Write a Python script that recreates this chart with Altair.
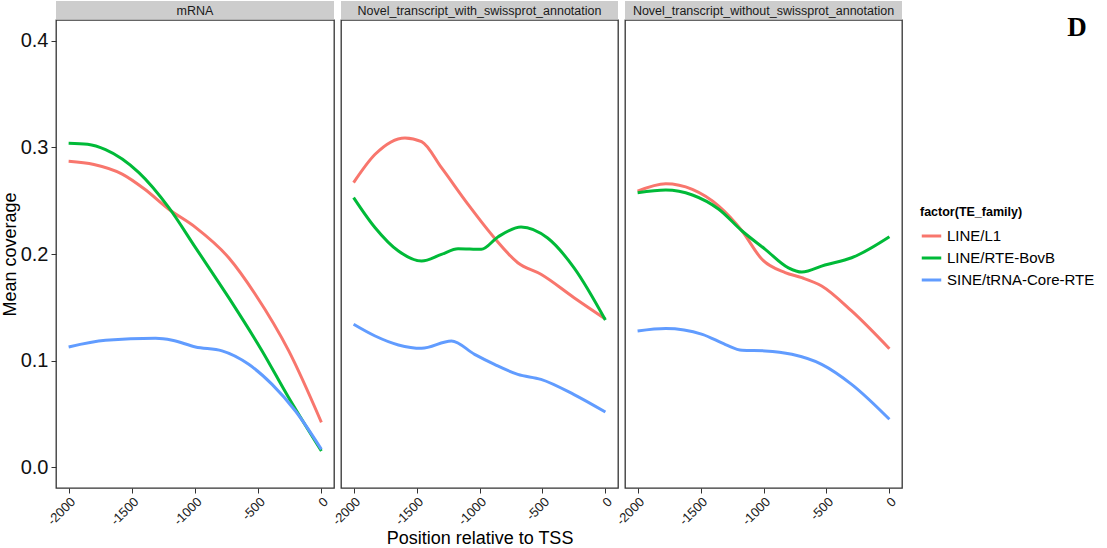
import altair as alt
import pandas as pd

panels = ["mRNA", "Novel_transcript_with_swissprot_annotation", "Novel_transcript_without_swissprot_annotation"]
families = ["LINE/L1", "LINE/RTE-BovB", "SINE/tRNA-Core-RTE"]
colors = ["#F8766D", "#00BA38", "#619CFF"]

# mRNA
mrna_l1_x = [-2000, -1800, -1576, -1400, -1207, -996, -733, -522, -258, 0]
mrna_l1_y = [0.287, 0.284, 0.275, 0.261, 0.242, 0.225, 0.1965, 0.162, 0.109, 0.042]
mrna_rte_x = [-2000, -1850, -1708, -1444, -1207, -996, -733, -469, -258, 0]
mrna_rte_y = [0.304, 0.303, 0.298, 0.2764, 0.2435, 0.206, 0.159, 0.109, 0.065, 0.015]
mrna_sine_x = [-2000, -1708, -1312, -1180, -996, -786, -575, -390, -205, 0]
mrna_sine_y = [0.1127, 0.119, 0.1208, 0.119, 0.1127, 0.109, 0.0964, 0.0776, 0.0526, 0.0166]

# Novel transcript with swissprot annotation
with_l1_x = [-2000, -1829, -1592, -1460, -1302, -1091, -881, -696, -512, -249, 0]
with_l1_y = [0.267, 0.2936, 0.309, 0.3055, 0.281, 0.2466, 0.215, 0.1918, 0.181, 0.159, 0.139]
with_rte_x = [-2000, -1829, -1644, -1460, -1302, -1170, -986, -854, -670, -459, -249, 0]
with_rte_y = [0.253, 0.2247, 0.2028, 0.1934, 0.1997, 0.205, 0.2044, 0.216, 0.2254, 0.215, 0.187, 0.138]
with_sine_x = [-2000, -1829, -1644, -1460, -1223, -1039, -881, -696, -512, -249, 0]
with_sine_y = [0.134, 0.123, 0.1146, 0.1114, 0.1183, 0.1058, 0.0964, 0.087, 0.0823, 0.068, 0.0516]

# Novel transcript without swissprot annotation
without_l1_x = [-2000, -1776, -1565, -1355, -1170, -1012, -828, -696, -538, -300, 0]
without_l1_y = [0.259, 0.266, 0.2607, 0.245, 0.2216, 0.195, 0.1825, 0.1778, 0.17, 0.1465, 0.111]
without_rte_x = [-2000, -1776, -1565, -1355, -1170, -986, -802, -696, -512, -300, 0]
without_rte_y = [0.2576, 0.260, 0.2554, 0.242, 0.2216, 0.2044, 0.187, 0.183, 0.1897, 0.1965, 0.2163]
without_sine_x = [-2000, -1776, -1486, -1302, -1170, -986, -775, -538, -300, 0]
without_sine_y = [0.1277, 0.130, 0.1246, 0.115, 0.1096, 0.109, 0.1058, 0.0964, 0.0776, 0.0448]

x_ticks = [-2000, -1500, -1000, -500, 0]
y_ticks = [0.0, 0.1, 0.2, 0.3, 0.4]

series = [
    (panels[0], families[0], mrna_l1_x, mrna_l1_y),
    (panels[0], families[1], mrna_rte_x, mrna_rte_y),
    (panels[0], families[2], mrna_sine_x, mrna_sine_y),
    (panels[1], families[0], with_l1_x, with_l1_y),
    (panels[1], families[1], with_rte_x, with_rte_y),
    (panels[1], families[2], with_sine_x, with_sine_y),
    (panels[2], families[0], without_l1_x, without_l1_y),
    (panels[2], families[1], without_rte_x, without_rte_y),
    (panels[2], families[2], without_sine_x, without_sine_y),
]
rows = []
for p, f, xs, ys in series:
    for x, y in zip(xs, ys):
        rows.append({"panel": p, "family": f, "pos": x, "cov": y})
df = pd.DataFrame(rows)

FONT = "Liberation Sans"
H = 468
widths = [278, 277, 277]
STRIP = 19

legend = alt.Legend(
    title="factor(TE_family)", orient="none", legendX=864, legendY=186,
    titleFont=FONT, titleFontSize=12.5, titleFontWeight="bold", titleColor="#000",
    labelFont=FONT, labelFontSize=15, labelColor="#000",
    symbolType="stroke", symbolStrokeWidth=3, symbolSize=380,
    rowPadding=2, titlePadding=6, symbolOffset=0,
)


def make_panel(i):
    name = panels[i]
    W = widths[i]
    yaxis = alt.Axis(values=y_ticks, format=".1f", labelFont=FONT, labelFontSize=20,
                     labelColor="#111", tickColor="#333", tickSize=5, domain=False,
                     grid=False, title="Mean coverage", titleFont=FONT, titleFontSize=18,
                     titleFontWeight="normal", titleColor="#000", labelPadding=3,
                     titlePadding=1) if i == 0 else None
    xaxis = alt.Axis(values=x_ticks, labelExpr="toString(datum.value)", labelAngle=-45,
                     labelFont=FONT, labelFontSize=13, labelColor="#222", tickColor="#333",
                     tickSize=5, domain=False, grid=False, labelPadding=2,
                     title="Position relative to TSS" if i == 1 else None,
                     titleFont=FONT, titleFontSize=18, titleFontWeight="normal",
                     titleColor="#000", titlePadding=2)
    lines = alt.Chart(df).transform_filter(alt.datum.panel == name).mark_line(
        interpolate="monotone", strokeWidth=3).encode(
        x=alt.X("pos:Q", scale=alt.Scale(domain=[-2100, 100], nice=False, zero=False), axis=xaxis),
        y=alt.Y("cov:Q", scale=alt.Scale(domain=[-0.0197, 0.4197], nice=False, zero=False), axis=yaxis),
        color=alt.Color("family:N", scale=alt.Scale(domain=families, range=colors), legend=legend),
        detail="family:N",
    )
    lab = pd.DataFrame({"label": [name]})
    strip = alt.Chart(lab).mark_rect(fill="#CDCDCD").encode(
        x=alt.value(0), x2=alt.value(W), y=alt.value(-STRIP), y2=alt.value(-0.5))
    strip_text = alt.Chart(lab).mark_text(font=FONT, fontSize=12.5, color="#1A1A1A",
                                          baseline="middle", align="center").encode(
        text="label:N", x=alt.value(W / 2), y=alt.value(-STRIP / 2))
    layers = [strip, strip_text, lines]
    if i == 2:
        d = pd.DataFrame({"t": ["D"]})
        layers.append(alt.Chart(d).mark_text(font="Liberation Serif", fontSize=27,
                                             fontWeight="bold", color="#000",
                                             baseline="middle", align="center").encode(
            text="t:N", x=alt.value(452), y=alt.value(8)))
    return alt.layer(*layers).properties(width=W, height=H)


chart = alt.hconcat(make_panel(0), make_panel(1), make_panel(2), spacing=7, bounds="flush").properties(
    padding={"left": 0, "top": 0, "right": 0, "bottom": 0}, background="white"
).configure_view(stroke="#333333", strokeWidth=1.3)

chart.save("out.html", embed_options={"renderer": "svg", "actions": False})
